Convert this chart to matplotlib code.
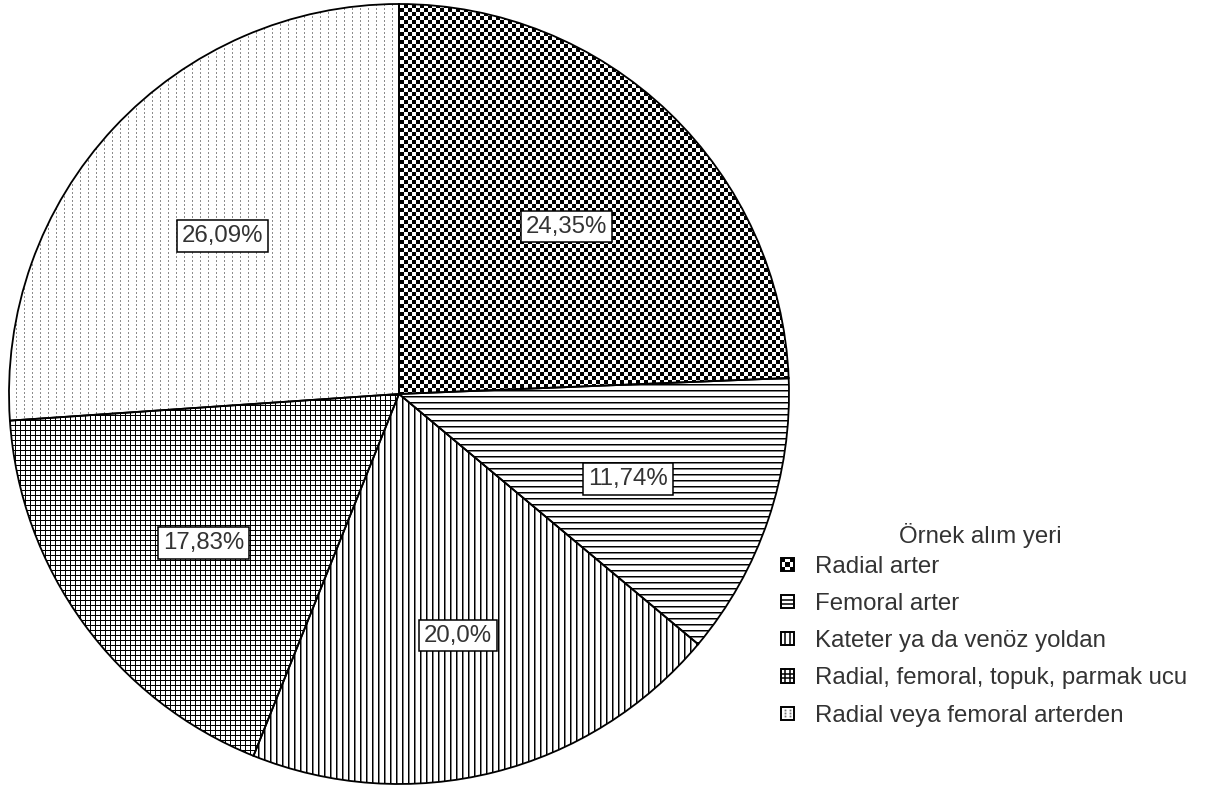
import numpy as np
import matplotlib
matplotlib.use("Agg")
import matplotlib.pyplot as plt
from matplotlib.patches import Patch, Rectangle
from matplotlib.lines import Line2D
from matplotlib.legend_handler import HandlerBase

plt.rcParams['font.family'] = ['Liberation Sans', 'DejaVu Sans']

# sample site distribution (%)
categories = ["Radial arter", "Femoral arter", "Kateter ya da venöz yoldan",
              "Radial, femoral, topuk, parmak ucu", "Radial veya femoral arterden"]
percentages = [24.35, 11.74, 20.0, 17.83, 26.09]
patterns = ["checker", "hlines", "vlines", "grid", "dots"]
legend_title = "Örnek alım yeri"

W, H = 1214, 785
TEXT = '#333333'


def pct_label(v):
    s = f"{v:.2f}".rstrip("0")
    if s.endswith("."):
        s += "0"
    return s.replace(".", ",") + "%"


def pattern_image(kind):
    # RGB fill pattern in figure pixels
    yy, xx = np.mgrid[0:H, 0:W]
    g = np.full((H, W), 255, dtype=np.uint8)
    if kind == "checker":
        g[((xx // 4) + (yy // 4)) % 2 == 0] = 0
    elif kind == "hlines":
        g[yy % 6 == 0] = 0
        g[yy % 6 == 1] = 128
    elif kind == "vlines":
        g[xx % 6 == 0] = 0
        g[xx % 6 == 1] = 128
    elif kind == "grid":
        g[(xx % 5 == 0) | (yy % 5 == 0)] = 0
    elif kind == "dots":
        g[(xx % 8 == 0) & (yy % 4 < 2)] = 140
    return np.dstack([g, g, g])


class PatternHandler(HandlerBase):
    def create_artists(self, legend, orig_handle, xdescent, ydescent,
                       width, height, fontsize, trans):
        kind = orig_handle.get_gid()
        s = 9.5
        x0 = -xdescent + (width - s) / 2
        y0 = -ydescent + (height - s) / 2
        c = s / 3
        arts = []
        if kind == "checker":
            for i in range(3):
                for j in range(3):
                    if (i + j) % 2 == 0:
                        arts.append(Rectangle((x0 + i * c, y0 + j * c), c, c,
                                              facecolor='black', edgecolor='none',
                                              transform=trans))
        if kind in ("hlines", "grid"):
            for k in (1, 2):
                arts.append(Line2D([x0, x0 + s], [y0 + k * c] * 2, color='black',
                                   lw=1.1, transform=trans))
        if kind in ("vlines", "grid"):
            for k in (1, 2):
                arts.append(Line2D([x0 + k * c] * 2, [y0, y0 + s], color='black',
                                   lw=1.1, transform=trans))
        if kind == "dots":
            for k in (1, 2):
                arts.append(Line2D([x0 + k * c] * 3, [y0 + 0.25 * s, y0 + 0.5 * s, y0 + 0.75 * s],
                                   ls='none', marker='s', ms=1.3, color='#777777',
                                   markeredgewidth=0, transform=trans))
        arts.append(Rectangle((x0, y0), s, s, facecolor='none', edgecolor='black',
                              lw=1.4, transform=trans))
        return arts


fig = plt.figure(figsize=(W / 100, H / 100), dpi=100)
ax = fig.add_axes([0, 0, 1, 1])

wedges, texts = ax.pie(percentages, labels=[pct_label(v) for v in percentages],
                       center=(399, H - 394), radius=390, startangle=90,
                       counterclock=False, labeldistance=0.62, frame=True,
                       wedgeprops=dict(facecolor='none', edgecolor='black',
                                       linewidth=1.3, zorder=3))

for w, kind in zip(wedges, patterns):
    im = ax.imshow(pattern_image(kind), extent=(0, W, 0, H), origin='upper',
                   interpolation='nearest', zorder=2)
    im.set_clip_path(w)

for t in texts:
    x, y = t.get_position()
    t.set_position((x, y - 7))
    t.set_ha('center')
    t.set_va('center')
    t.set_fontsize(17.3)
    t.set_color(TEXT)
    t.set_zorder(5)
    t.set_bbox(dict(boxstyle='square,pad=0.2', facecolor='white',
                    edgecolor='black', linewidth=1.1))

handles = [Patch(facecolor='none', label=c, gid=k) for c, k in zip(categories, patterns)]
leg = ax.legend(handles=handles, labels=categories,
                handler_map={Patch: PatternHandler()},
                loc='upper left', bbox_to_anchor=(779, H - 556),
                bbox_transform=ax.transData, frameon=False,
                fontsize=17.3, labelcolor=TEXT,
                handlelength=0.7, handleheight=0.7, handletextpad=0.78,
                labelspacing=0.63, borderpad=0, borderaxespad=0)
ax.text(980, H - 535, legend_title, fontsize=17.3, color=TEXT,
        ha='center', va='center')

ax.set_xlim(0, W)
ax.set_ylim(0, H)
ax.axis('off')

fig.savefig("out.png", dpi=100, facecolor='white')
